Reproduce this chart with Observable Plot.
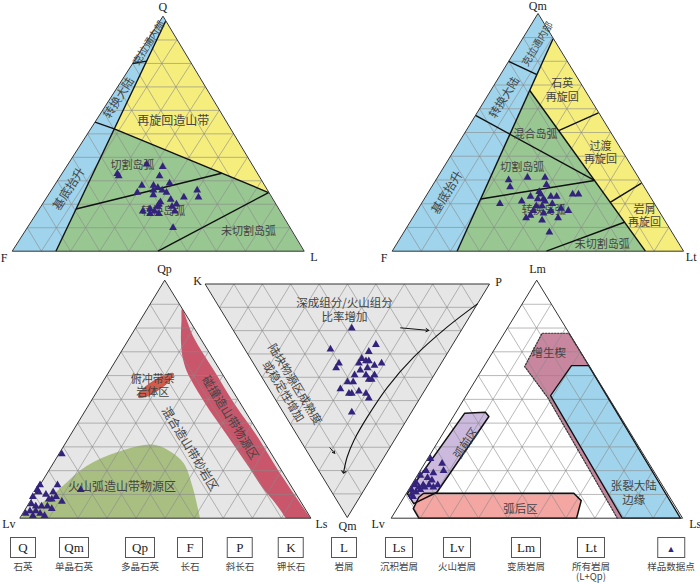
<!DOCTYPE html>
<html><head><meta charset="utf-8">
<script src="https://cdn.jsdelivr.net/npm/d3@7"></script>
<script src="https://cdn.jsdelivr.net/npm/@observablehq/plot@0.6"></script>
<style>
body{margin:0;background:#fff;}
#wrap{width:700px;position:relative;}
#legend{position:relative;width:700px;height:51px;}
.lg{position:absolute;top:5px;transform:translateX(-50%);text-align:center;}
.box{border:1px solid #555;height:19px;line-height:19px;font-family:"Liberation Serif",serif;font-size:13px;color:#222;margin:0 auto;box-sizing:content-box;}
.nm{font-family:"Noto Sans CJK SC",sans-serif;font-size:9.5px;color:#444;margin-top:3px;line-height:10px;white-space:nowrap;}
</style></head><body>
<div id="wrap"><div id="chart"></div><div id="legend"></div></div>
<script>
// ================= DATA (ternary compositions, %) =================
// Q-F-L samples [Q, F, L]
const qflSamples = [[33,48,19],[32,48,20],[37,36,27],[36,31,33],[32,34,34],[29,32,39],[28,42,30],[28,38,34],[27,37,36],[26,39,35],[26,36,38],[25,35,40],[25,45,30],[24,40,36],[22,35,43],[23,30,47],[26,24,50],[23,25,52],[21,39,40],[20,40,40],[19,36,45],[20,34,46],[17,47,36],[16,45,39],[17,43,40],[16,42,42],[17,36,47],[10,40,50],[19,41,40],[18,44,38]];
// Qm-F-Lt samples [Qm, F, Lt]
const qmfltSamples = [[30,45,25],[31,38,31],[31,32,37],[27,46,27],[28,33,39],[20,53,27],[21,45,34],[23,41,36],[25,37,38],[24,37,39],[22,39,39],[22,37,41],[23,34,43],[23,32,45],[24,26,50],[24,24,52],[21,37,42],[20,35,45],[19,39,42],[18,33,49],[17,31,52],[17,37,46],[17,43,40],[16,40,44],[15,45,40],[14,47,39],[13,42,45],[14,36,50],[8,42,50],[19,41,40]];
// Qp-Lv-Ls samples [Qp, Lv, Ls]
const qplvlsSamples = [[27,72,1],[14,80,6],[14,86,0],[12,88,0],[10,86,4],[11,83,6],[9,83,8],[8,85,7],[8,86,6],[7,82,11],[9,91,0],[6,93,1],[5,92,3],[5,90,5],[5,88,7],[4,87,9],[3,95,2],[3,93,4],[2,92,6],[1,91,8],[1,95,4],[12,73,15],[11,88,1],[2,97,1]];
// Qm-P-K samples [Qm, P, K]
const qmpkSamples = [[19,42,39],[28,30,42],[26,47,27],[29,43,28],[34,30,36],[36,28,36],[34,37,29],[32,39,29],[33,40,27],[36,39,25],[35,42,23],[34,45,21],[37,36,27],[39,33,28],[39,37,24],[39,40,21],[41,37,22],[41,38,21],[42,29,29],[42,31,27],[45,25,30],[47,27,26],[47,28,25],[46,31,23],[47,33,20],[49,33,18],[55,24,21],[33,41,26]];
// Lm-Lv-Ls samples [Lm, Lv, Ls]
const lmlvlsSamples = [[25,74,1],[23,71,6],[20,72,8],[19,76,5],[20,78,2],[18,81,1],[17,79,4],[16,78,6],[14,77,9],[15,84,1],[14,82,4],[14,80,6],[14,85,1],[13,84,3],[13,82,5],[11,86,3],[12,87,1],[10,88,2],[9,88,3],[13,79,8],[12,84,4]];

// ---- field polygons / boundaries (compositions) ----
const whole = [[100,0,0],[0,100,0],[0,0,100]];
const qflContinental = [[100,0,0],[98,0,2],[0,85,15],[0,100,0]];
const qflRecycled = [[98,0,2],[25,0,75],[52.1,39.8,8.1]];
const qflArc = [[52.1,39.8,8.1],[25,0,75],[0,0,100],[0,85,15]];
const qflLines = [
  [[98,0,2],[0,85,15]], [[80,20,0],[81,14.74,4.26]], [[55,45,0],[52.1,39.8,8.1]],
  [[52.1,39.8,8.1],[25,0,75]], [[18,69.4,12.6],[33.2,12.1,54.7]], [[0,50,50],[25,0,75]]
];
const qmfltContinental = [[100,0,0],[89.5,0,10.5],[0,77.7,22.3],[0,100,0]];
const qmfltRecycled = [[89.5,0,10.5],[67.7,18.9,13.4],[0,13,87],[0,0,100]];
const qmfltArc = [[67.7,18.9,13.4],[0,77.7,22.3],[0,13,87]];
const qmfltLines = [
  [[89.5,0,10.5],[0,77.7,22.3]], [[80,20,0],[74.4,13.1,12.5]], [[57.2,42.8,0],[29.8,15.6,54.6]],
  [[67.7,18.9,13.4],[0,13,87]], [[22,58.6,19.4],[29.8,15.6,54.6]], [[0,47,53],[12.2,14.1,73.7]],
  [[50.8,17.4,31.8],[58.3,0,41.7]], [[20.6,14.8,64.6],[28.7,0,71.3]]
];
const qplvlsCollision = [[0,0,100],[20,1,79],[34,1,65],[48,2,50],[62,2,36],[76,2,22],[88,0,12],[83.2,2.6,14.2],[74.8,7,18.2],[68,9.9,22.1],[62.1,11.5,26.4],[56.2,12,31.8],[50.8,12,37.2],[44.9,11.9,43.2],[38.2,11.4,50.4],[30.2,10.9,58.9],[21.8,10.4,67.8],[12.9,10.1,77],[6.2,8.9,84.9],[0,8.5,91.5]];
const qplvlsArc = [[0,38,62],[13,34,53],[23,32,45],[28,34,38],[31,39,30],[28,52,20],[22,66,12],[9,85,6],[0,100,0]];
const qplvlsMelange = [[60.8,16.6,22.6],[58.1,19.1,22.8],[54.1,25.0,20.9],[51.1,31.1,17.8],[50.9,33.6,15.5],[53.6,31.2,15.2],[57.6,25.2,17.2],[60.5,19.2,20.3]];
const qmpkTrend = [[8.5,91.5,0],[18.5,75.8,5.7],[31.4,57.6,11],[44.3,41.9,13.8],[57.1,28.4,14.5],[67.1,18.7,14.2],[74.3,12.7,13],[80.7,8.3,11]];
const qmpkArrows = [[[18.8,59.3,21.9],[19.9,68.7,11.4]], [[70.2,8.7,21.1],[72.6,9.2,18.2]]];
const lmAccretion = [[77.8,9.2,13.0],[77.8,0,22.2],[64.2,0,35.8],[0,20.6,79.4],[0,22.3,77.7],[50.7,20.8,28.5],[63.8,22.2,14]];
const lmAccretionEdge = [[0,22.3,77.7],[50.7,20.8,28.5],[63.8,22.2,14],[77.8,9.2,13.0],[77.8,0,22.2],[64.2,0,35.8]];
const lmRift = [[64.2,5.9,29.9],[64.2,0,35.8],[0,0.6,99.4],[0,20.6,79.4],[51.6,19.4,29]];
const lmForearc = [[44.2,52.6,3.2],[44.6,45.3,10.1],[42.8,45,12.2],[10.9,78.8,10.3],[6.1,89.2,4.7],[10.3,89.3,0.4]];
const lmBackarc = [[10.5,83.6,5.9],[10.5,32,57.5],[7.4,31,61.6],[0,36.3,63.7],[0,90.5,9.5],[4,90.4,5.6],[8.8,86.1,5.1]];

// ---- texts ----
const qflVertices = ["Q","F","L"];
const qmfltVertices = ["Qm","F","Lt"];
const qplvlsVertices = ["Qp","Lv","Ls"];
const qmpkVertices = ["Qm","P","K"];
const lmlvlsVertices = ["Lm","Lv","Ls"];
const qflLabels = [
  {t:"再旋回造山带",c:[55.7,17.8,26.5],r:0,s:12},{t:"切割岛弧",c:[36.7,41,22.3],r:0,s:11},
  {t:"转换岛弧",c:[17.3,39.8,42.9],r:0,s:11},{t:"未切割岛弧",c:[8.8,14.7,76.5],r:0,s:11},
  {t:"基底抬升",c:[26.7,67.8,5.5],r:-57.3,s:12},{t:"转换大陆",c:[65.5,31.9,2.6],r:-57.3,s:11.5},
  {t:"克拉通内部",c:[88.9,10.3,0.8],r:-57.3,s:10}];
const qmfltLabels = [
  {t:"克拉通内部",c:[87.4,6.5,6.1],r:-58.5,s:10},{t:"转换大陆",c:[64.9,29.2,5.9],r:-58.5,s:11.5},
  {t:"基底抬升",c:[24.9,68.9,6.2],r:-58.5,s:12},{t:"石英\n再旋回",c:[68,7.6,24.4],r:0,s:11},
  {t:"过渡\n再旋回",c:[41.7,7.6,50.7],r:0,s:11},{t:"岩屑\n再旋回",c:[15,5.8,79.2],r:0,s:11},
  {t:"混合岛弧",c:[49.5,26,24.5],r:0,s:11},{t:"切割岛弧",c:[35.4,37.6,27],r:0,s:11},
  {t:"转换岛弧",c:[17.4,39.2,43.4],r:0,s:11},{t:"未切割岛弧",c:[3.1,26.3,70.6],r:0,s:11}];
const qplvlsLabels = [
  {t:"俯冲带杂\n岩体区",c:[55.8,26.2,18],r:0,s:11},{t:"碰撞造山带物源区",c:[42.4,6.2,51.4],r:58.4,s:12},
  {t:"混合造山带砂岩区",c:[29.3,26.6,44.1],r:58.4,s:12},{t:"火山弧造山带物源区",c:[13.3,58.4,28.7],r:0,s:12}];
const qmpkLabels = [
  {t:"深成组分/火山组分\n比率增加",c:[10.9,43.5,45.6],r:0,s:11.5},
  {t:"陆块物源区成熟度\n或稳定性增加",c:[44.4,7.4,48.2],r:58.7,s:11.5}];
const lmlvlsLabels = [
  {t:"增生楔",c:[69.8,10.9,19.3],r:0,s:11.5},{t:"张裂大陆\n边缘",c:[10.8,11.2,78],r:0,s:11.5},
  {t:"弧后区",c:[4.2,53.5,42.3],r:0,s:11.5},{t:"弧前区",c:[31.6,58.6,9.8],r:-56,s:11.5}];
const legendSymbols = ["Q","Qm","Qp","F","P","K","L","Ls","Lv","Lm","Lt","▲"];
const legendNames = ["石英","单晶石英","多晶石英","长石","斜长石","钾长石","岩屑","沉积岩屑","火山岩屑","变质岩屑","所有岩屑\n(L+Qp)","样品数据点"];

// ================= LAYOUT =================
const layoutTri = {
  qfl:    [[162.3,16],[11.7,250.7],[303.3,250.7]],
  qmflt:  [[537.3,13.3],[391.7,250.7],[682.7,250.7]],
  qplvls: [[164,280],[19.3,517.7],[310,517.7]],
  qmpk:   [[347,516.7],[489,283.5],[205,283.5]],
  lmlvls: [[536,280],[390.7,517.7],[681.7,517.7]]
};
const vertexOffsets = {
  qfl: [[0,-9],[-8,7],[10,6]], qmflt: [[0,-7.5],[-8,7],[8,6]], qplvls: [[0,-11],[-11,6],[11,6]],
  qmpk: [[0,9],[9,-2],[-8,-3]], lmlvls: [[1,-11],[-13,6],[13,6]]
};
const legendX = [23,74,140,190,240,291,344,399,457,526,591,671];
const legendW = [24,28,28,24,24,24,24,26,26,28,26,26];
const C = {blue:"#9fd4ec", yellow:"#f5ed7c", green:"#98c792", grey:"#e6e6e6", red:"#c9566b", olive:"#a9bf82",
  ellipse:"#d65a4a", pink:"#c8869f", lav:"#cbb9de", salmon:"#f4a6a2", grid:"#8a8a8a", pt:"#33237d", text:"#444"};
const CJK = "Noto Sans CJK SC";
const SERIF = "Liberation Serif";

// ================= HELPERS =================
function P(key, c){ const v=layoutTri[key]; const s=c[0]+c[1]+c[2];
  return [(c[0]*v[0][0]+c[1]*v[1][0]+c[2]*v[2][0])/s,(c[0]*v[0][1]+c[1]*v[1][1]+c[2]*v[2][1])/s]; }
const X = key => d => P(key,d)[0];
const Y = key => d => P(key,d)[1];
function poly(key, pts, o){
  return Plot.line(pts, {x:X(key), y:Y(key), curve:o.curve||"linear-closed", fill:o.fill||"none",
    stroke:o.stroke||"none", strokeWidth:o.sw||1, strokeDasharray:o.dash, strokeLinejoin:"round"});
}
function segs(key, list, stroke, sw){
  return Plot.link(list, {x1:d=>P(key,d[0])[0], y1:d=>P(key,d[0])[1], x2:d=>P(key,d[1])[0], y2:d=>P(key,d[1])[1], stroke, strokeWidth:sw});
}
function gridSegs(){ const s=[]; for(let i=1;i<10;i++){const a=i*10,b=100-a;
  s.push([[a,b,0],[a,0,b]],[[b,a,0],[0,a,b]],[[b,0,a],[0,b,a]]);} return s; }
const GRID = gridSegs();
function grid(key){ return segs(key, GRID, C.grid, 0.6); }
function outline(key){ return poly(key, whole, {stroke:"#333", sw:1}); }
function labels(key, arr){
  return Plot.text(arr, {x:d=>P(key,d.c)[0], y:d=>P(key,d.c)[1], text:d=>d.t, rotate:d=>d.r, fontSize:d=>d.s,
    fontFamily:CJK, fill:C.text, lineHeight:1.2});
}
function vertexLabels(key, names){
  const corners=[[100,0,0],[0,100,0],[0,0,100]];
  return names.map((n,i)=>Plot.text([corners[i]], {x:X(key), y:Y(key), text:()=>n, dx:vertexOffsets[key][i][0], dy:vertexOffsets[key][i][1],
    fontFamily:SERIF, fontSize:12, fill:"#222"}));
}
function samples(key, arr){ return Plot.dot(arr, {x:X(key), y:Y(key), symbol:"triangle", r:2.9, fill:C.pt, stroke:"none"}); }

// ================= PLOT =================
const chart = Plot.plot({
  width:700, height:532, margin:0,
  x:{domain:[0,700], range:[0,700], axis:null},
  y:{domain:[0,532], range:[0,532], axis:null},
  style:{background:"#fff", overflow:"visible"},
  marks:[
    // QFL
    poly("qfl", qflContinental, {fill:C.blue}), poly("qfl", qflRecycled, {fill:C.yellow}), poly("qfl", qflArc, {fill:C.green}),
    grid("qfl"), segs("qfl", qflLines, "#111", 1.4), outline("qfl"),
    labels("qfl", qflLabels), ...vertexLabels("qfl", qflVertices), samples("qfl", qflSamples),
    // QmFLt
    poly("qmflt", qmfltContinental, {fill:C.blue}), poly("qmflt", qmfltRecycled, {fill:C.yellow}), poly("qmflt", qmfltArc, {fill:C.green}),
    grid("qmflt"), segs("qmflt", qmfltLines, "#111", 1.4), outline("qmflt"),
    labels("qmflt", qmfltLabels), ...vertexLabels("qmflt", qmfltVertices), samples("qmflt", qmfltSamples),
    // QpLvLs
    poly("qplvls", whole, {fill:C.grey}),
    poly("qplvls", qplvlsArc, {fill:C.olive, curve:"catmull-rom"}),
    poly("qplvls", qplvlsCollision, {fill:C.red, curve:"catmull-rom"}),
    poly("qplvls", qplvlsMelange, {fill:C.ellipse, curve:"catmull-rom-closed", stroke:"#9a3a30", sw:0.6}),
    grid("qplvls"), outline("qplvls"),
    labels("qplvls", qplvlsLabels), ...vertexLabels("qplvls", qplvlsVertices), samples("qplvls", qplvlsSamples),
    // QmPK
    poly("qmpk", whole, {fill:C.grey}), grid("qmpk"), outline("qmpk"),
    Plot.line(qmpkTrend, {x:X("qmpk"), y:Y("qmpk"), curve:"catmull-rom", stroke:"#111", strokeWidth:1.1, markerEnd:"arrow"}),
    Plot.arrow(qmpkArrows, {x1:d=>P("qmpk",d[0])[0], y1:d=>P("qmpk",d[0])[1], x2:d=>P("qmpk",d[1])[0], y2:d=>P("qmpk",d[1])[1], stroke:"#111", strokeWidth:1, headLength:5}),
    labels("qmpk", qmpkLabels), ...vertexLabels("qmpk", qmpkVertices), samples("qmpk", qmpkSamples),
    // LmLvLs
    poly("lmlvls", lmAccretion, {fill:C.pink}), poly("lmlvls", lmRift, {fill:C.blue}),
    poly("lmlvls", lmForearc, {fill:C.lav}), poly("lmlvls", lmBackarc, {fill:C.salmon}),
    grid("lmlvls"),
    poly("lmlvls", lmAccretionEdge, {curve:"linear", stroke:"#333", sw:1.2, dash:"1.5,1.5"}),
    poly("lmlvls", lmRift, {stroke:"#111", sw:1.3}),
    poly("lmlvls", lmForearc, {stroke:"#111", sw:1.5}),
    poly("lmlvls", lmBackarc, {stroke:"#111", sw:1.5}),
    outline("lmlvls"),
    labels("lmlvls", lmlvlsLabels), ...vertexLabels("lmlvls", lmlvlsVertices), samples("lmlvls", lmlvlsSamples)
  ]
});
document.getElementById("chart").appendChild(chart);

// ================= LEGEND =================
const lg = document.getElementById("legend");
legendSymbols.forEach((s,i)=>{
  const d = document.createElement("div"); d.className = "lg"; d.style.left = legendX[i] + "px";
  const sym = s === "▲" ? `<span style="color:${C.pt};font-size:9px">▲</span>` : s;
  d.innerHTML = `<div class="box" style="width:${legendW[i]}px">${sym}</div><div class="nm">${legendNames[i].replace("\n","<br>")}</div>`;
  lg.appendChild(d);
});
</script></body></html>
